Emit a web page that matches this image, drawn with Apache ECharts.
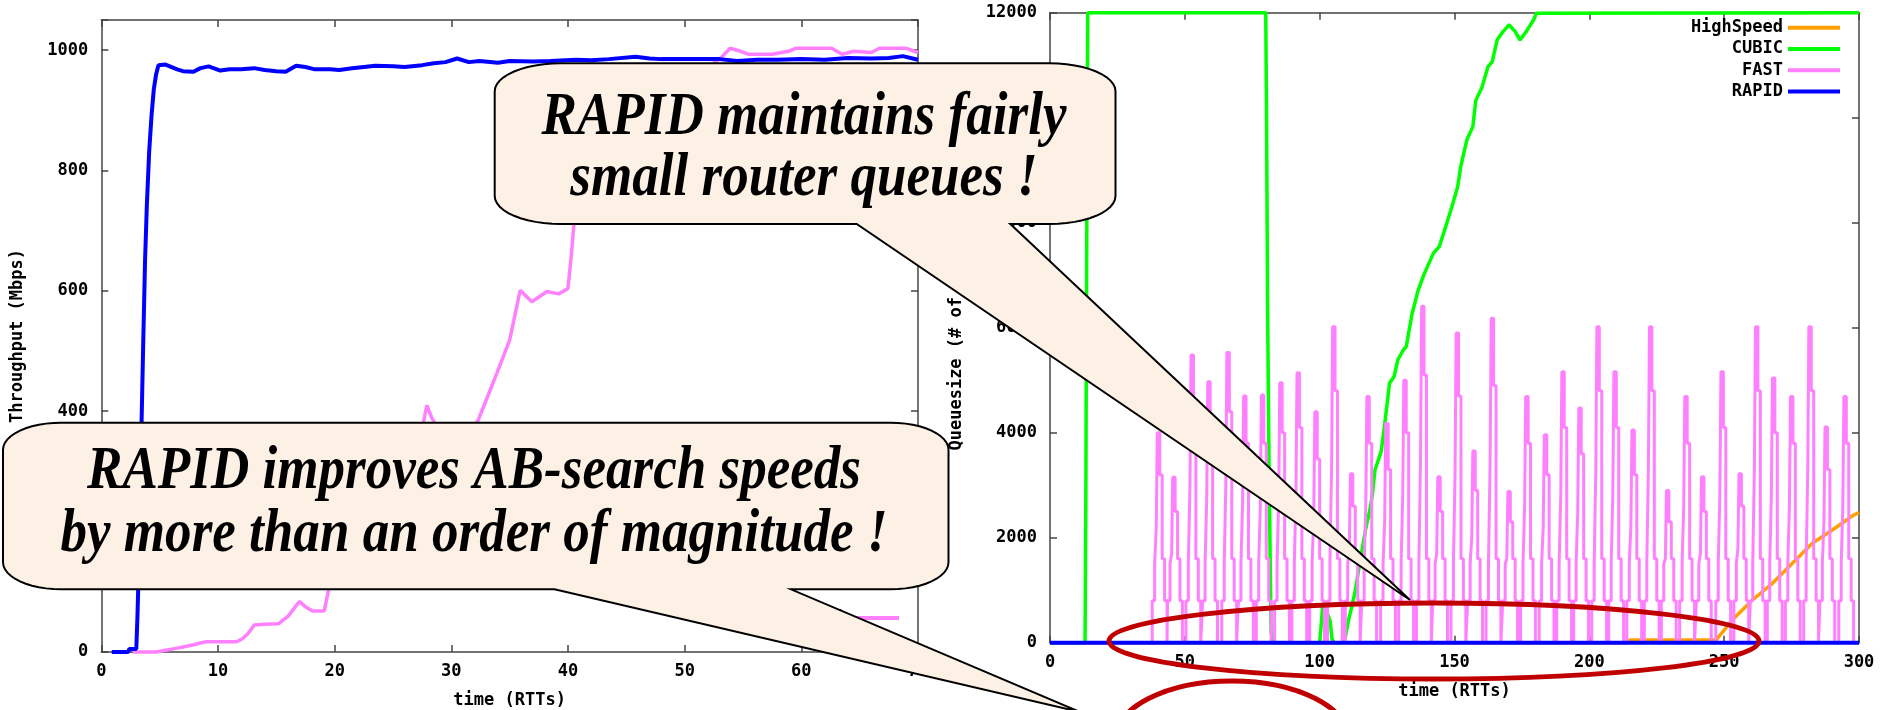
<!DOCTYPE html>
<html>
<head>
<meta charset="utf-8">
<title>RAPID: throughput and router queues</title>
<script src="https://cdn.jsdelivr.net/npm/echarts@6/dist/echarts.min.js"></script>
<style>
  html, body { margin: 0; padding: 0; background: #ffffff; }
  #chart { width: 1886px; height: 710px; }
</style>
</head>
<body>
<div id="chart"></div>
<script>
// ---- Throughput of a single flow (Mbps) against time (RTTs) ----
const rapidThroughput = [
  [0.9,0],[2.3,0],[2.4,5],[3.0,5],[3.1,60],[3.3,200],[3.45,380],[3.6,520],[3.75,650],[3.9,740],
  [4.1,830],[4.3,890],[4.5,935],[4.7,960],[4.9,975],[5.5,976],[6.5,968],[7.0,965],[7.9,964],
  [8.5,970],[9.2,973],[10.2,966],[11,968],[12,968],[13.1,970],[14,967],[15,965],[15.8,964],
  [16.7,974],[17.5,972],[18.3,968],[19.6,968],[20.4,967],[21.5,970],[22.5,972],[23.5,974],
  [25,973],[26,972],[27.5,975],[28.5,978],[29.5,980],[30.5,986],[31.5,980],[32.4,982],
  [34,979],[35,982],[37,981],[38.5,982],[40.7,984],[42,983],[43.5,985],[45.8,989],[47,986],
  [48,985],[50,985],[53,985],[54.5,982],[56.2,984],[58,984],[60,985],[62,984],[64,987],
  [66,986],[67.5,987],[68.7,990],[70,984]
];
const fastThroughput = [
  [2.7,0],[4.7,0],[5.5,3],[6.4,6],[7.2,9],[7.9,12],[8.5,15],[9,17],[10,17],[11.6,17],[12.1,22],
  [12.6,31],[13.1,45],[14,46],[15.2,47],[16,59],[16.5,72],[17,84],[17.5,75],[18.1,68],[19.1,68],
  [19.6,114],[20.5,150],[22,200],[24,260],[26,320],[27.5,370],[27.9,410],[28.3,390],[29,365],
  [30,345],[31,355],[32.3,385],[33.9,463],[35,518],[35.9,601],[36.9,582],[38.2,599],[39.2,595],
  [40,604],[40.3,662],[40.5,709],[41,740],[42,770],[43.5,810],[45,850],[47,890],[49,930],
  [51,960],[53,985],[53.9,1003],[54.8,998],[55.5,993],[57.5,993],[58.9,998],[59.5,1003],
  [62.6,1003],[63.5,993],[64.5,998],[66,996],[66.7,1003],[69,1003],[70,996]
];

// ---- Router queue size (packets) against time (RTTs) ----
const highspeedQueue = [
  [0,0],[214.5,0],[215,50],[247,50],[247.5,80],[253,432],[260.5,813],[267.9,1131],
  [275.3,1512],[282.7,1893],[290.1,2147],[298,2430],[300,2480]
];
const cubicQueue = [
  [0,0],[13,0],[13.3,2900],[13.6,7350],[14,12000],[80,12000],[80.3,10100],[80.7,6300],
  [81.3,3000],[82,200],[83,0],[100,0],[100.5,300],[101.2,750],[102.5,600],[103.9,410],
  [104.6,60],[105.5,0],[108.5,0],[109.5,100],[110.7,430],[112,700],[113.2,990],[114.4,1370],
  [115.5,1700],[117,2150],[118.5,2500],[119.5,2800],[120.5,3290],[122.8,3640],[124,4110],
  [125.9,4940],[127.6,5070],[129,5390],[131,5575],[132.1,5640],[134.3,6270],[136.5,6710],
  [138.8,7030],[142.2,7420],[144.4,7550],[146.7,7920],[149,8300],[151.2,8690],[152.3,9070],
  [154.6,9580],[156.8,9830],[157.9,10330],[160.2,10580],[162.4,10970],[164,11070],
  [165.8,11480],[168,11640],[170.3,11770],[172.5,11640],[174.3,11480],[176.6,11640],
  [179.3,11860],[180.4,11990],[181,12000],[300,12000]
];
const fastQueue = [
  [0,0],
  [37.9,800],[38.8,1500],[39.4,2200],[39.8,4000],[40.7,3200],[41.6,1600],[42.5,800],[43.4,0],
  [43.6,800],[44.5,1500],[45.1,1700],[45.5,3150],[46.4,2500],[47.3,1600],[48.2,800],[49.1,0],
  [50.4,800],[51.3,1500],[51.9,3000],[52.3,5480],[53.2,4400],[54.1,1600],[55.0,800],[55.9,0],
  [56.6,800],[57.5,1500],[58.1,2700],[58.5,4970],[59.4,4000],[60.3,1600],[61.2,800],[62.1,0],
  [63.7,800],[64.6,1500],[65.2,3000],[65.6,5530],[66.5,4400],[67.4,1600],[68.3,800],[69.2,0],
  [69.9,800],[70.8,1500],[71.4,2600],[71.8,4700],[72.7,3800],[73.6,1600],[74.5,800],[75.4,0],
  [76.5,800],[77.4,1500],[78.0,2600],[78.4,4720],[79.3,3800],[80.2,1600],[81.1,800],[82.0,0],
  [83.3,800],[84.2,1500],[84.8,2700],[85.2,4950],[86.1,4000],[87.0,1600],[87.9,800],[88.8,0],
  [89.7,800],[90.6,1500],[91.2,2800],[91.6,5140],[92.5,4100],[93.4,1600],[94.3,800],[95.2,0],
  [96.3,800],[97.2,1500],[97.8,2400],[98.2,4400],[99.1,3500],[100.0,1600],[100.9,800],[101.8,0],
  [102.9,800],[103.8,1500],[104.4,3300],[104.8,6020],[105.7,4800],[106.6,1600],[107.5,800],[108.4,0],
  [109.5,800],[110.4,1500],[111.0,1800],[111.4,3220],[112.3,2600],[113.2,1600],[114.1,800],[115.0,0],
  [115.6,800],[116.5,1500],[117.1,2600],[117.5,4690],[118.4,3800],[119.3,1600],[120.2,800],[121.1,0],
  [122.6,800],[123.5,1500],[124.1,2300],[124.5,4180],[125.4,3300],[126.3,1600],[127.2,800],[128.1,0],
  [129.3,800],[130.2,1500],[130.8,2800],[131.2,5000],[132.1,4000],[133.0,1600],[133.9,800],[134.8,0],
  [135.9,800],[136.8,1500],[137.4,3500],[137.8,6410],[138.7,5100],[139.6,1600],[140.5,800],[141.4,0],
  [141.9,800],[142.8,1500],[143.4,1700],[143.8,3160],[144.7,2500],[145.6,1600],[146.5,800],[147.4,0],
  [148.7,800],[149.6,1500],[150.2,3200],[150.6,5900],[151.5,4700],[152.4,1600],[153.3,800],[154.2,0],
  [154.9,800],[155.8,1500],[156.4,2000],[156.8,3650],[157.7,2900],[158.6,1600],[159.5,800],[160.4,0],
  [161.7,800],[162.6,1500],[163.2,3400],[163.6,6180],[164.5,4900],[165.4,1600],[166.3,800],[167.2,0],
  [167.9,800],[168.8,1500],[169.4,1600],[169.8,2880],[170.7,2300],[171.6,1600],[172.5,800],[173.4,0],
  [174.5,800],[175.4,1500],[176.0,2600],[176.4,4690],[177.3,3800],[178.2,1600],[179.1,800],[180.0,0],
  [181.4,800],[182.3,1500],[182.9,2200],[183.3,3960],[184.2,3200],[185.1,1600],[186.0,800],[186.9,0],
  [187.9,800],[188.8,1500],[189.4,2800],[189.8,5160],[190.7,4100],[191.6,1600],[192.5,800],[193.4,0],
  [194.2,800],[195.1,1500],[195.7,2500],[196.1,4470],[197.0,3600],[197.9,1600],[198.8,800],[199.7,0],
  [200.9,800],[201.8,1500],[202.4,3300],[202.8,6020],[203.7,4800],[204.6,1600],[205.5,800],[206.4,0],
  [207.2,800],[208.1,1500],[208.7,2800],[209.1,5160],[210.0,4100],[210.9,1600],[211.8,800],[212.7,0],
  [213.9,800],[214.8,1500],[215.4,2200],[215.8,4050],[216.7,3200],[217.6,1600],[218.5,800],[219.4,0],
  [220.4,800],[221.3,1500],[221.9,3300],[222.3,6020],[223.2,4800],[224.1,1600],[225.0,800],[225.9,0],
  [226.7,800],[227.6,1500],[228.2,1600],[228.6,2900],[229.5,2300],[230.4,1600],[231.3,800],[232.2,0],
  [233.5,800],[234.4,1500],[235.0,2600],[235.4,4690],[236.3,3800],[237.2,1600],[238.1,800],[239.0,0],
  [239.7,800],[240.6,1500],[241.2,1700],[241.6,3160],[242.5,2500],[243.4,1600],[244.3,800],[245.2,0],
  [246.9,800],[247.8,1500],[248.4,2800],[248.8,5160],[249.7,4100],[250.6,1600],[251.5,800],[252.4,0],
  [253.6,800],[254.5,1500],[255.1,1800],[255.5,3220],[256.4,2600],[257.3,1600],[258.2,800],[259.1,0],
  [259.7,800],[260.6,1500],[261.2,3300],[261.6,6020],[262.5,4800],[263.4,1600],[264.3,800],[265.2,0],
  [266.0,800],[266.9,1500],[267.5,2800],[267.9,5040],[268.8,4000],[269.7,1600],[270.6,800],[271.5,0],
  [272.7,800],[273.6,1500],[274.2,2600],[274.6,4690],[275.5,3800],[276.4,1600],[277.3,800],[278.2,0],
  [279.5,800],[280.4,1500],[281.0,3300],[281.4,6020],[282.3,4800],[283.2,1600],[284.1,800],[285.0,0],
  [285.5,800],[286.4,1500],[287.0,2300],[287.4,4110],[288.3,3300],[289.2,1600],[290.1,800],[291.0,0],
  [292.5,800],[293.4,1500],[294.0,2600],[294.4,4690],[295.3,3800],[296.2,1600],[297.1,800],[298.0,0],
  [300,0]
];
const rapidQueue = [[0,0],[300,0]];

const throughputLegend = ['FAST', 'RAPID'];
const queueLegend = ['HighSpeed', 'CUBIC', 'FAST', 'RAPID'];

const COLORS = { HighSpeed: '#FFA000', CUBIC: '#00FF00', FAST: '#FF80FF', RAPID: '#0000FF' };
const MONO = '"DejaVu Sans Mono", monospace';
const monoText = { fontFamily: MONO, fontWeight: 'bold', fontSize: 17, color: '#000' };
const FRAME = '#444444';

// Bottom/top and left/right axes; the mirrored ones only carry inward ticks so the plot is framed.
function xAxisOf(grid, max, interval, mirrored) {
  return {
    gridIndex: grid, type: 'value', min: 0, max: max, interval: interval,
    position: mirrored ? 'top' : 'bottom',
    axisLine: { show: true, onZero: false, lineStyle: { color: FRAME, width: 1.5 } },
    axisTick: { show: true, inside: true, length: 7, lineStyle: { color: FRAME, width: 1.5 } },
    axisLabel: mirrored ? { show: false } : Object.assign({ margin: 11 }, monoText),
    splitLine: { show: false },
    name: mirrored ? '' : 'time (RTTs)',
    nameLocation: 'middle', nameGap: 40,
    nameTextStyle: monoText
  };
}
function yAxisOf(grid, max, interval, mirrored, name, gap) {
  return {
    gridIndex: grid, type: 'value', min: 0, max: max, interval: interval,
    position: mirrored ? 'right' : 'left',
    axisLine: { show: true, onZero: false, lineStyle: { color: FRAME, width: 1.5 } },
    axisTick: { show: true, inside: true, length: 7, lineStyle: { color: FRAME, width: 1.5 } },
    axisLabel: mirrored ? { show: false } : Object.assign({
      margin: 13,
      formatter: function (v) { return v % interval === 0 ? String(v) : ''; }
    }, monoText),
    splitLine: { show: false },
    name: mirrored ? '' : name,
    nameLocation: 'middle', nameRotate: 90, nameGap: gap,
    nameTextStyle: monoText
  };
}
function lineSeries(name, xi, yi, data, width, extra) {
  return Object.assign({
    type: 'line', name: name, xAxisIndex: xi, yAxisIndex: yi, data: data,
    symbol: 'none', showSymbol: false, clip: false,
    lineStyle: { color: COLORS[name], width: width },
    itemStyle: { color: COLORS[name] },
    emphasis: { disabled: true }
  }, extra || {});
}
function legendOf(names, right, top) {
  return {
    data: names, orient: 'vertical', align: 'right', right: right, top: top, padding: 0,
    icon: 'rect', itemWidth: 52, itemHeight: 4, itemGap: 4.3, selectedMode: false,
    textStyle: Object.assign({ lineHeight: 15 }, monoText)
  };
}

// Speech bubble outline: rounded box plus a pointed tail leaving its bottom edge.
function bubblePoints(l, t, r, b, rx, ry, tailA, tailB, tipX, tipY) {
  const pts = [];
  function corner(cx, cy, a0, a1) {
    for (let i = 0; i <= 12; i++) {
      const a = a0 + (a1 - a0) * i / 12;
      pts.push([cx + rx * Math.cos(a), cy + ry * Math.sin(a)]);
    }
  }
  corner(r - rx, t + ry, -Math.PI / 2, 0);
  corner(r - rx, b - ry, 0, Math.PI / 2);
  pts.push([tailB, b], [tipX, tipY], [tailA, b]);
  corner(l + rx, b - ry, Math.PI / 2, Math.PI);
  corner(l + rx, t + ry, Math.PI, 1.5 * Math.PI);
  return pts;
}
const bubbleStyle = { fill: '#FDF0E4', stroke: '#000', lineWidth: 2, lineJoin: 'miter' };
// Bubble captions: tall, condensed bold-italic serif.
function bubbleText(x, y, text) {
  return {
    type: 'text', x: x, y: y, scaleX: 0.87, z: 101,
    style: {
      text: text, fill: '#000',
      fontFamily: 'Liberation Serif', fontWeight: 'bold', fontStyle: 'italic', fontSize: 61,
      align: 'center', verticalAlign: 'middle',
      textAlign: 'center', textVerticalAlign: 'middle'
    }
  };
}

const option = {
  animation: false,
  backgroundColor: '#ffffff',
  grid: [
    { left: 101.3, top: 20, width: 816.7, height: 632, containLabel: false, outerBoundsMode: 'none' },
    { left: 1050, top: 12.7, width: 809, height: 630, containLabel: false, outerBoundsMode: 'none' }
  ],
  xAxis: [
    xAxisOf(0, 70, 10, false), xAxisOf(0, 70, 10, true),
    xAxisOf(1, 300, 50, false), xAxisOf(1, 300, 50, true)
  ],
  yAxis: [
    yAxisOf(0, 1050, 200, false, 'Throughput (Mbps)', 75), yAxisOf(0, 1050, 200, true),
    yAxisOf(1, 12000, 2000, false, 'Queuesize (# of packets)', 85), yAxisOf(1, 12000, 2000, true)
  ],
  legend: [
    legendOf(throughputLegend, 987, 609.5),
    legendOf(queueLegend, 46, 19.2)
  ],
  series: [
    lineSeries('FAST', 0, 0, fastThroughput, 3.5, { z: 2 }),
    lineSeries('RAPID', 0, 0, rapidThroughput, 4, { z: 3 }),
    lineSeries('HighSpeed', 2, 2, highspeedQueue, 3.5, { z: 2 }),
    lineSeries('CUBIC', 2, 2, cubicQueue, 3.5, { z: 3 }),
    lineSeries('FAST', 2, 2, fastQueue, 3, { z: 4, step: 'end' }),
    lineSeries('RAPID', 2, 2, rapidQueue, 4, { z: 5 })
  ],
  graphic: [
    { type: 'polygon', z: 100, shape: { points: bubblePoints(494.7, 63.3, 1115.5, 224, 66, 28, 856.7, 1010.3, 1410, 600) }, style: bubbleStyle },
    bubbleText(804, 118, 'RAPID maintains fairly'),
    bubbleText(804, 179.5, 'small router queues !'),
    { type: 'polygon', z: 100, shape: { points: bubblePoints(3, 422.7, 948.5, 589.3, 58, 27, 554.5, 791, 1080, 712) }, style: bubbleStyle },
    bubbleText(474, 472, 'RAPID improves AB-search speeds'),
    bubbleText(474, 535, 'by more than an order of magnitude !'),
    { type: 'ellipse', z: 110, shape: { cx: 1434, cy: 641, rx: 325, ry: 38 }, style: { fill: 'none', stroke: '#C00000', lineWidth: 5 } },
    { type: 'ellipse', z: 110, shape: { cx: 1232, cy: 741, rx: 118, ry: 60 }, style: { fill: 'none', stroke: '#C00000', lineWidth: 5 } }
  ]
};

const chart = echarts.init(document.getElementById('chart'), null, { renderer: 'canvas' });
chart.setOption(option);
</script>
</body>
</html>
